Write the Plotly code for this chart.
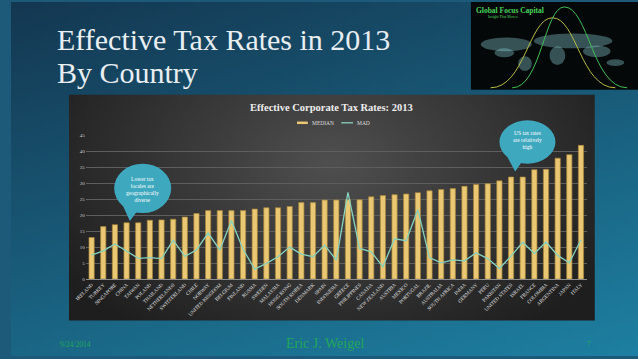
import numpy as np
import zlib, struct, base64
import plotly.graph_objects as go

# ---------------- data ----------------
countries = ["IRELAND", "TURKEY", "SINGAPORE", "CHINA", "TAIWAN", "POLAND", "THAILAND",
             "NETHERLANDS", "SWITZERLAND", "CHILE", "NORWAY", "UNITED KINGDOM", "BELGIUM",
             "FINLAND", "RUSSIA", "SWEDEN", "MALAYSIA", "HONG KONG", "SOUTH KOREA", "DENMARK",
             "SPAIN", "INDONESIA", "GREECE", "PHILIPPINES", "CANADA", "NEW ZEALAND", "AUSTRIA",
             "MEXICO", "PORTUGAL", "BRAZIL", "AUSTRALIA", "SOUTH AFRICA", "INDIA", "GERMANY",
             "PERU", "PAKISTAN", "UNITED STATES", "ISRAEL", "FRANCE", "COLOMBIA", "ARGENTINA",
             "JAPAN", "ITALY"]
median = [13.0, 16.4, 17.0, 17.6, 17.6, 18.4, 18.5, 18.7, 19.4, 20.5, 21.4, 21.4, 21.4,
          21.4, 21.9, 22.3, 22.3, 22.7, 23.9, 23.9, 24.7, 24.7, 24.8, 24.8, 25.7, 26.1, 26.4,
          26.6, 27.0, 27.6, 28.0, 28.3, 29.0, 29.6, 29.8, 30.7, 31.9, 31.9, 34.2, 34.3, 37.8,
          38.9, 41.8]
mad = [7.5, 8.8, 11.0, 8.8, 6.5, 6.7, 6.4, 12.2, 7.1, 9.1, 14.4, 9.1, 18.2, 9.3, 3.1, 4.9,
       7.0, 10.0, 7.8, 7.0, 10.6, 5.9, 27.1, 9.6, 8.5, 3.9, 12.6, 12.0, 21.7, 6.7, 5.1, 6.0,
       5.7, 8.2, 6.4, 3.3, 7.2, 11.5, 8.0, 11.6, 7.4, 5.1, 12.3]
y_ticks = [0, 5, 10, 15, 20, 25, 30, 35, 40, 45]

W, H = 638, 359
SERIF = "Liberation Serif, Times New Roman, serif"


def px(x):
    return x / W


def py(y):
    return 1 - y / H


def png_uri(arr):
    arr = np.clip(arr, 0, 255).astype(np.uint8)
    h, w, _ = arr.shape
    raw = b"".join(b"\x00" + arr[i].tobytes() for i in range(h))

    def chunk(t, d):
        return struct.pack(">I", len(d)) + t + d + struct.pack(">I", zlib.crc32(t + d) & 0xffffffff)

    png = (b"\x89PNG\r\n\x1a\n" + chunk(b"IHDR", struct.pack(">IIBBBBB", w, h, 8, 2, 0, 0, 0))
           + chunk(b"IDAT", zlib.compress(raw)) + chunk(b"IEND", b""))
    return "data:image/png;base64," + base64.b64encode(png).decode()


# slide background gradient (decoration)
gy, gx = np.mgrid[0:72, 0:128]
gx = gx / 127.0
gy = gy / 71.0
t = np.clip(0.35 * gx + 0.65 * gy, 0, 1)[..., None]
slide_bg = np.array([20, 56, 82]) * (1 - t) + np.array([30, 128, 162]) * t

# chart area gradient (decoration)
cy, cx = np.mgrid[0:70, 0:160]
cx = cx / 159.0
cy = cy / 69.0
d = np.clip(np.sqrt(((cx - 0.5) / 0.62) ** 2 + ((cy - 0.3) / 0.95) ** 2), 0, 1)[..., None]
chart_bg = np.array([80, 80, 80]) * (1 - d) + np.array([30, 30, 30]) * d

fig = go.Figure()
fig.add_trace(go.Bar(
    x=countries, y=median, name="MEDIAN",
    marker=dict(color="#e9c773", line=dict(color="#a8843a", width=0.7)),
    showlegend=False,
))
fig.add_trace(go.Scatter(
    x=countries, y=mad, name="MAD", mode="lines",
    line=dict(color="#86d2bf", width=1.3),
    showlegend=False,
))

shapes = []
# logo box
shapes.append(dict(type="rect", xref="paper", yref="paper", x0=px(468), x1=px(638),
                   y0=py(89), y1=py(0), fillcolor="#050808", line=dict(width=0), layer="above"))
# faint world map blobs
for (xa, ya, xb, yb) in [(478, 36, 530, 50), (492, 47, 512, 56), (516, 55, 530, 70),
                         (532, 32, 612, 47), (548, 45, 564, 64), (582, 44, 610, 56),
                         (606, 58, 624, 65)]:
    shapes.append(dict(type="circle", xref="paper", yref="paper", x0=px(xa), x1=px(xb),
                       y0=py(yb), y1=py(ya), fillcolor="rgba(150,220,230,0.35)",
                       line=dict(width=0), layer="above"))


def bell(x0, xp, x1, top, base):
    wl = xp - x0
    wr = x1 - xp
    return (f"M {px(x0)},{py(base)} C {px(x0 + 0.55 * wl)},{py(base)} {px(xp - 0.38 * wl)},{py(top)} "
            f"{px(xp)},{py(top)} C {px(xp + 0.38 * wr)},{py(top)} {px(x1 - 0.55 * wr)},{py(base)} "
            f"{px(x1)},{py(base)}")


shapes.append(dict(type="path", xref="paper", yref="paper", path=bell(488, 551, 615, 16, 87),
                   line=dict(color="#b7bb45", width=1), layer="above"))
shapes.append(dict(type="path", xref="paper", yref="paper", path=bell(510, 563, 627, 5, 87),
                   line=dict(color="#3fbf55", width=1), layer="above"))

# legend swatches
shapes.append(dict(type="line", xref="paper", yref="paper", x0=px(291), x1=px(302),
                   y0=py(122.5), y1=py(122.5), line=dict(color="#e9c773", width=2.5), layer="above"))
shapes.append(dict(type="line", xref="paper", yref="paper", x0=px(336), x1=px(348),
                   y0=py(122.5), y1=py(122.5), line=dict(color="#86d2bf", width=1.3), layer="above"))

# callout bubbles
BUB = "#3ea8bf"
shapes.append(dict(type="circle", xref="paper", yref="paper", x0=px(105), x1=px(163),
                   y0=py(214), y1=py(164), fillcolor=BUB, line=dict(width=0), layer="above"))
shapes.append(dict(type="path", xref="paper", yref="paper",
                   path=f"M {px(114)},{py(207)} L {px(121)},{py(222)} L {px(130)},{py(210)} Z",
                   fillcolor=BUB, line=dict(width=0), layer="above"))
shapes.append(dict(type="circle", xref="paper", yref="paper", x0=px(497), x1=px(554),
                   y0=py(164), y1=py(120), fillcolor=BUB, line=dict(width=0), layer="above"))
shapes.append(dict(type="path", xref="paper", yref="paper",
                   path=f"M {px(505)},{py(157)} L {px(513)},{py(172)} L {px(520)},{py(162)} Z",
                   fillcolor=BUB, line=dict(width=0), layer="above"))

annotations = [
    dict(text="Effective Tax Rates in 2013", x=px(45), y=py(38), xref="paper",
         yref="paper", xanchor="left", yanchor="middle", showarrow=False, align="left",
         font=dict(family=SERIF, size=30, color="#e9eef2")),
    dict(text="By Country", x=px(45), y=py(72), xref="paper",
         yref="paper", xanchor="left", yanchor="middle", showarrow=False, align="left",
         font=dict(family=SERIF, size=30, color="#e9eef2")),
    dict(text="<b>Effective Corporate Tax Rates: 2013</b>", x=px(326), y=py(106.5), xref="paper",
         yref="paper", xanchor="center", yanchor="middle", showarrow=False,
         font=dict(family=SERIF, size=10.5, color="#eeeeee")),
    dict(text="MEDIAN", x=px(304), y=py(122.5), xref="paper", yref="paper", xanchor="left",
         yanchor="middle", showarrow=False, font=dict(family=SERIF, size=5.5, color="#dddddd")),
    dict(text="MAD", x=px(350), y=py(122.5), xref="paper", yref="paper", xanchor="left",
         yanchor="middle", showarrow=False, font=dict(family=SERIF, size=5.5, color="#dddddd")),
    dict(text="Lower tax<br>locales are<br>geographically<br>diverse", x=px(134), y=py(190),
         xref="paper", yref="paper", xanchor="center", yanchor="middle", showarrow=False,
         font=dict(family=SERIF, size=5.5, color="#ffffff")),
    dict(text="US tax rates<br>are relatively<br>high", x=px(525.5), y=py(140), xref="paper",
         yref="paper", xanchor="center", yanchor="middle", showarrow=False,
         font=dict(family=SERIF, size=5.5, color="#ffffff")),
    dict(text="<b>Global Focus Capital</b>", x=px(471), y=py(8.5), xref="paper", yref="paper",
         xanchor="left", yanchor="middle", showarrow=False,
         font=dict(family=SERIF, size=7.5, color="#47d45a")),
    dict(text="Insight That Moves", x=px(483), y=py(15.5), xref="paper", yref="paper",
         xanchor="left", yanchor="middle", showarrow=False,
         font=dict(family=SERIF, size=3.8, color="#47d45a")),
    dict(text="9/24/2014", x=px(66), y=py(347), xref="paper", yref="paper", xanchor="center",
         yanchor="middle", showarrow=False, font=dict(family=SERIF, size=7.5, color="#22a85a")),
    dict(text="Eric J. Weigel", x=px(319), y=py(346.5), xref="paper", yref="paper",
         xanchor="center", yanchor="middle", showarrow=False,
         font=dict(family=SERIF, size=14, color="#22a85a")),
    dict(text="7", x=px(588), y=py(347), xref="paper", yref="paper", xanchor="center",
         yanchor="middle", showarrow=False, font=dict(family=SERIF, size=7.5, color="#22a85a")),
]

images = [
    dict(source=png_uri(slide_bg), xref="paper", yref="paper", x=0, y=1, sizex=1, sizey=1,
         sizing="stretch", layer="below", xanchor="left", yanchor="top"),
    dict(source=png_uri(chart_bg), xref="paper", yref="paper", x=px(59), y=py(94),
         sizex=px(594) - px(59), sizey=py(94) - py(323), sizing="stretch", layer="below",
         xanchor="left", yanchor="top"),
]

fig.update_layout(
    width=W, height=H, autosize=False,
    margin=dict(l=0, r=0, t=0, b=0),
    paper_bgcolor="#1d5a7a", plot_bgcolor="rgba(0,0,0,0)",
    bargap=0.55,
    shapes=shapes, annotations=annotations, images=images,
    xaxis=dict(domain=[px(76.1), px(585.9)], range=[-0.5, len(countries) - 0.5],
               tickangle=-45, tickfont=dict(family=SERIF, size=5, color="#e0e0e0"),
               showgrid=False, showline=True, linecolor="#8c8c8c", linewidth=0.8,
               ticks="", fixedrange=True),
    yaxis=dict(domain=[py(281), py(135)], range=[0, 45], tickvals=y_ticks, ticksuffix="%",
               tickfont=dict(family=SERIF, size=5, color="#cfcfcf"),
               showgrid=True, gridcolor="#5e5e5e", gridwidth=0.7, zeroline=False,
               showline=False, ticks="", fixedrange=True),
    showlegend=False,
)

fig.write_html("out.html", post_script="document.body.style.margin='0';",
               config={"displayModeBar": False})
